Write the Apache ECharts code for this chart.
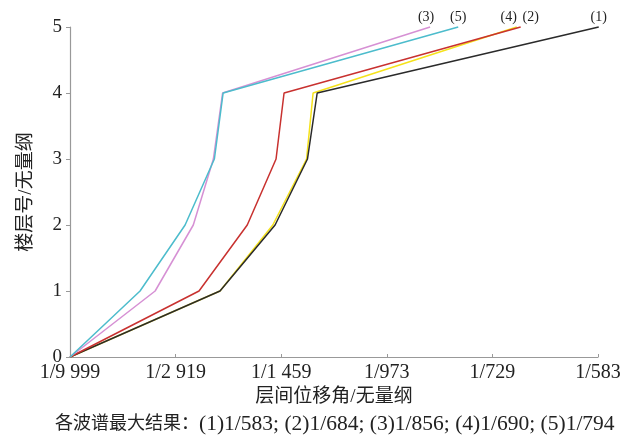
<!DOCTYPE html>
<html>
<head>
<meta charset="utf-8">
<script src="https://cdn.jsdelivr.net/npm/echarts@6/dist/echarts.min.js"></script>
<style>
  html, body { margin: 0; padding: 0; background: #fff; }
  #chart { width: 630px; height: 437px; }
</style>
</head>
<body>
<div id="chart"></div>
<script>
// 楼层号
const floors = [0, 1, 2, 3, 4, 5];
// 层间位移角 (各波谱), 读图估计
const wave1 = [0, 1 / 2055, 1 / 1503, 1 / 1298, 1 / 1247, 1 / 583];
const wave2 = [0, 1 / 2389, 1 / 1739, 1 / 1496, 1 / 1440, 1 / 684];
const wave3 = [0, 1 / 3620, 1 / 2500, 1 / 2150, 1 / 2020, 1 / 856];
const wave4 = [0, 1 / 2055, 1 / 1520, 1 / 1303, 1 / 1268, 1 / 690];
const wave5 = [0, 1 / 4400, 1 / 2678, 1 / 2135, 1 / 2013, 1 / 794];
const waveNames = ['(1)', '(2)', '(3)', '(4)', '(5)'];
const xTickLabels = ['1/9 999', '1/2 919', '1/1 459', '1/973', '1/729', '1/583'];
const xStep = 1 / 2919;

const serif = '"Liberation Serif", "Noto Sans CJK SC", serif';

function makeSeries(name, arr, color, z, offset) {
    let data = arr.map((v, i) => [v, floors[i]]);
    let last = data.length - 1;
    data[last] = {
        value: data[last],
        label: {
            show: true,
            formatter: name,
            position: 'top',
            distance: 3,
            offset: offset,
            color: '#222',
            fontFamily: serif,
            fontSize: 14
        }
    };
    return {
        name: name,
        type: 'line',
        data: data,
        symbol: 'circle',
        symbolSize: 0,
        showSymbol: true,
        clip: false,
        z: z,
        label: { show: false },
        lineStyle: { color: color, width: 1.5 }
    };
}

const chart = echarts.init(document.getElementById('chart'));
chart.setOption({
    backgroundColor: '#fff',
    animation: false,
    grid: { left: 70, right: 32, top: 27, bottom: 80 },
    title: {
        text: '{cn|各波谱最大结果：}{en|(1)1/583; (2)1/684; (3)1/856; (4)1/690; (5)1/794}',
        left: 50,
        top: 409,
        textStyle: {
            rich: {
                cn: { fontFamily: serif, fontSize: 18, fontWeight: 'normal', color: '#222' },
                en: { fontFamily: serif, fontSize: 21.5, fontWeight: 'normal', color: '#222' }
            }
        }
    },
    xAxis: {
        type: 'value',
        min: 0,
        max: 5 * xStep,
        interval: xStep,
        name: '层间位移角/无量纲',
        nameLocation: 'middle',
        nameGap: 31,
        nameTextStyle: { fontFamily: serif, fontSize: 19, color: '#222' },
        axisLine: { lineStyle: { color: '#999', width: 1.2 } },
        axisTick: { show: true, length: 3, inside: true, lineStyle: { color: '#999' } },
        splitLine: { show: false },
        axisLabel: {
            color: '#222',
            fontFamily: serif,
            fontSize: 20,
            margin: 6,
            formatter: v => xTickLabels[Math.round(v / xStep)]
        }
    },
    yAxis: {
        type: 'value',
        min: 0,
        max: 5,
        interval: 1,
        name: '楼层号/无量纲',
        nameLocation: 'middle',
        nameGap: 34,
        nameTextStyle: { fontFamily: serif, fontSize: 19, color: '#222' },
        axisLine: { show: true, lineStyle: { color: '#999', width: 1.2 } },
        axisTick: { show: true, length: 4, lineStyle: { color: '#999' } },
        splitLine: { show: false },
        axisLabel: { color: '#222', fontFamily: serif, fontSize: 19, margin: 8 }
    },
    series: [
        makeSeries(waveNames[3], wave4, '#f5e21a', 2, [-8, 0]),
        makeSeries(waveNames[0], wave1, '#2a2a2a', 3, [0, 0]),
        makeSeries(waveNames[1], wave2, '#c8312f', 4, [10, 0]),
        makeSeries(waveNames[2], wave3, '#d690d4', 5, [-4, 0]),
        makeSeries(waveNames[4], wave5, '#4cbccc', 6, [0, 0])
    ]
});
</script>
</body>
</html>
